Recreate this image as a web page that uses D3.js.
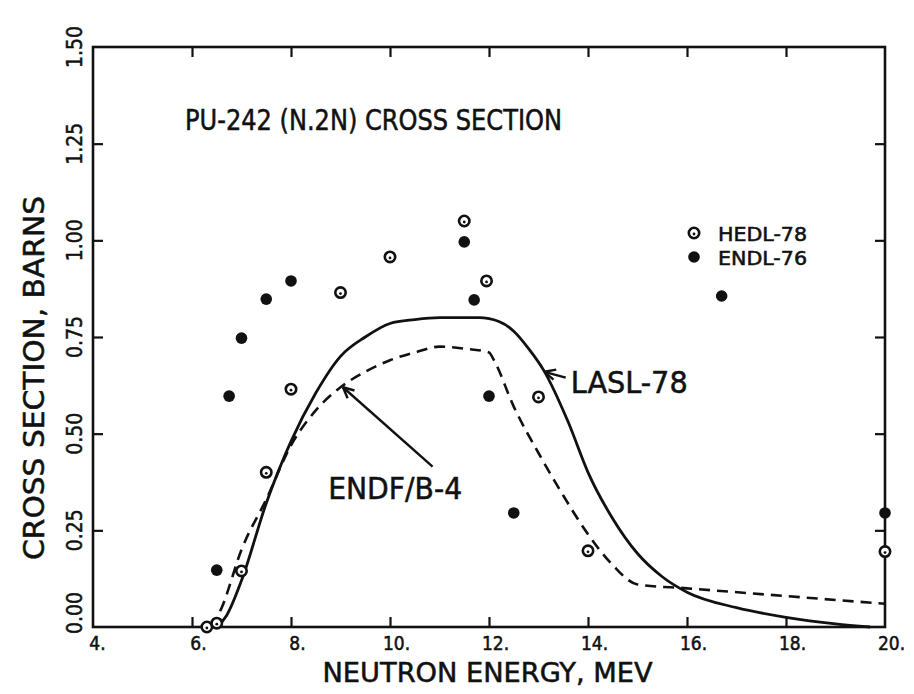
<!DOCTYPE html>
<html>
<head>
<meta charset="utf-8">
<script src="https://cdn.jsdelivr.net/npm/d3@7"></script>
<style>
  body { margin: 0; background: #fff; }
  text { font-family: "DejaVu Sans Condensed", "Liberation Sans Narrow", "DejaVu Sans", sans-serif; fill: #111; stroke: #111; stroke-width: 0.5; }
</style>
</head>
<body>
<div id="chart"></div>
<script>
  // tick values
  var energyTicks = [4, 6, 8, 10, 12, 14, 16, 18, 20];
  var xsTicks = [0, 0.25, 0.5, 0.75, 1.0, 1.25, 1.5];

  // HEDL-78 measurements (open circles)
  var hedlE  = [6.3, 6.5, 7.0, 7.5, 8.0, 9.0, 10.0, 11.5, 11.95, 13.0, 14.0, 20.0];
  var hedlXS = [0.0, 0.01, 0.145, 0.40, 0.615, 0.865, 0.957, 1.05, 0.895, 0.595, 0.197, 0.195];

  // ENDL-76 (filled points)
  var endlE  = [6.5, 6.75, 7.0, 7.5, 8.0, 11.5, 11.7, 12.0, 12.5, 16.7, 20.0];
  var endlXS = [0.147, 0.597, 0.747, 0.848, 0.895, 0.996, 0.846, 0.597, 0.295, 0.856, 0.295];

  // LASL-78 evaluation (solid)
  var laslE  = [6.5, 6.7, 7.0, 7.5, 8.0, 8.5, 9.0, 9.5, 10.0, 10.5, 11.0, 11.8, 12.2, 12.5, 12.8, 13.1, 13.6, 14.0, 14.5, 15.0, 15.5, 16.0, 17.0, 18.0, 19.0, 19.7];
  var laslXS = [0.0, 0.03, 0.12, 0.32, 0.48, 0.605, 0.70, 0.75, 0.785, 0.795, 0.80, 0.80, 0.79, 0.765, 0.72, 0.665, 0.53, 0.40, 0.28, 0.19, 0.13, 0.09, 0.05, 0.025, 0.008, 0.0];

  // ENDF/B-4 evaluation (dashed)
  var endfE  = [6.4, 6.6, 7.0, 7.5, 8.0, 8.5, 9.0, 9.5, 10.0, 10.5, 11.0, 11.5, 12.0, 12.1, 12.5, 13.0, 13.5, 14.0, 14.5, 15.0, 16.0, 18.0, 20.0];
  var endfXS = [0.0, 0.05, 0.20, 0.33, 0.47, 0.56, 0.62, 0.66, 0.69, 0.71, 0.725, 0.72, 0.71, 0.69, 0.57, 0.45, 0.34, 0.24, 0.16, 0.11, 0.10, 0.08, 0.06];

  var margin = { top: 47, right: 29, bottom: 67, left: 93 },
    width = 914 - margin.left - margin.right,
    height = 694 - margin.top - margin.bottom;

  var x = d3.scaleLinear().domain([4, 20]).range([0, width]);
  var y = d3.scaleLinear().domain([0, 1.5]).range([height, 0]);

  var svg = d3.select("#chart")
    .append("svg")
    .attr("width", 914)
    .attr("height", 694)
    .append("g")
    .attr("transform", "translate(" + margin.left + "," + margin.top + ")");

  var inner = energyTicks.slice(1, -1);
  var innerY = xsTicks.slice(1, -1);

  // inward ticks on all four sides
  svg.append("g")
    .attr("transform", "translate(0," + height + ")")
    .call(d3.axisTop(x).tickValues(inner).tickSize(10).tickFormat(""));
  svg.append("g")
    .call(d3.axisBottom(x).tickValues(inner).tickSize(10).tickFormat(""));
  svg.append("g")
    .call(d3.axisRight(y).tickValues(innerY).tickSize(10).tickFormat(""));
  svg.append("g")
    .attr("transform", "translate(" + width + ",0)")
    .call(d3.axisLeft(y).tickValues(innerY).tickSize(10).tickFormat(""));
  svg.selectAll(".domain").remove();
  svg.selectAll(".tick line").attr("stroke", "#111").attr("stroke-width", 2.2);

  // frame
  svg.append("rect")
    .attr("width", width).attr("height", height)
    .attr("fill", "none").attr("stroke", "#111").attr("stroke-width", 2.6);

  // x tick labels
  svg.append("g")
    .attr("transform", "translate(0," + height + ")")
    .call(d3.axisBottom(x).tickValues(energyTicks).tickSize(0).tickPadding(10)
      .tickFormat(function(d) { return d + "."; }))
    .call(function(g) { g.select(".domain").remove(); })
    .selectAll("text")
    .attr("font-size", 19)
    .attr("font-family", null)
    .attr("fill", null)
    .attr("dx", function(d) { return d == 4 ? 4 : 6; });

  // y tick labels, rotated
  svg.selectAll(".ylab")
    .data(xsTicks)
    .enter().append("text")
    .attr("class", "ylab")
    .attr("transform", function(d) {
      var yy = y(d) - (d == 0 ? 14 : 0);
      return "translate(-11," + yy + ") rotate(-90)";
    })
    .attr("text-anchor", "middle")
    .attr("font-size", 21)
    .text(function(d) { return d3.format(".2f")(d); });

  // axis titles
  svg.append("text")
    .attr("x", (322 + 653) / 2 - margin.left)
    .attr("y", height + 55)
    .attr("text-anchor", "middle")
    .attr("font-size", 27)
    .attr("textLength", 330).attr("lengthAdjust", "spacingAndGlyphs")
    .text("NEUTRON ENERGY, MEV");

  svg.append("text")
    .attr("transform", "translate(" + (44 - margin.left) + "," + (378 - margin.top) + ") rotate(-90)")
    .attr("text-anchor", "middle")
    .attr("font-size", 28)
    .attr("textLength", 364).attr("lengthAdjust", "spacingAndGlyphs")
    .text("CROSS SECTION, BARNS");

  // chart title
  svg.append("text")
    .attr("x", 185 - margin.left)
    .attr("y", 130 - margin.top)
    .attr("font-size", 28)
    .attr("textLength", 377).attr("lengthAdjust", "spacingAndGlyphs")
    .text("PU-242 (N.2N) CROSS SECTION");

  // evaluation curves
  var line = d3.line()
    .x(function(d) { return x(d[0]); })
    .y(function(d) { return y(d[1]); })
    .curve(d3.curveMonotoneX);

  svg.append("path")
    .datum(d3.zip(laslE, laslXS))
    .attr("d", line)
    .attr("fill", "none").attr("stroke", "#111").attr("stroke-width", 2.8);

  svg.append("path")
    .datum(d3.zip(endfE, endfXS))
    .attr("d", line)
    .attr("fill", "none").attr("stroke", "#111").attr("stroke-width", 2.6)
    .attr("stroke-dasharray", "11,7");

  // ENDL-76 points
  svg.selectAll(".endl")
    .data(d3.zip(endlE, endlXS))
    .enter().append("circle")
    .attr("class", "endl")
    .attr("cx", function(d) { return x(d[0]); })
    .attr("cy", function(d) { return y(d[1]); })
    .attr("r", 5.8)
    .attr("fill", "#111");

  // HEDL-78 points
  var hedl = svg.selectAll(".hedl")
    .data(d3.zip(hedlE, hedlXS))
    .enter().append("g")
    .attr("class", "hedl")
    .attr("transform", function(d) { return "translate(" + x(d[0]) + "," + y(d[1]) + ")"; });
  hedl.append("circle").attr("r", 5.2).attr("fill", "#fff").attr("stroke", "#111").attr("stroke-width", 2.6);
  hedl.append("circle").attr("r", 1.4).attr("cy", 1).attr("fill", "#111");

  // legend
  var legend = svg.append("g").attr("transform", "translate(" + (694 - margin.left) + "," + (233 - margin.top) + ")");
  legend.append("circle").attr("r", 5.2).attr("fill", "#fff").attr("stroke", "#111").attr("stroke-width", 2.6);
  legend.append("circle").attr("r", 1.4).attr("cy", 1).attr("fill", "#111");
  legend.append("circle").attr("cy", 24).attr("r", 5.8).attr("fill", "#111");
  legend.append("text").attr("x", 24).attr("y", 8).attr("font-size", 19)
    .attr("textLength", 89).attr("lengthAdjust", "spacingAndGlyphs").text("HEDL-78");
  legend.append("text").attr("x", 24).attr("y", 32).attr("font-size", 19)
    .attr("textLength", 89).attr("lengthAdjust", "spacingAndGlyphs").text("ENDL-76");

  // annotations
  var arrow = function(x1, y1, x2, y2) {
    svg.append("line")
      .attr("x1", x(x1)).attr("y1", y(y1)).attr("x2", x(x2)).attr("y2", y(y2))
      .attr("stroke", "#111").attr("stroke-width", 2.4);
    var a = Math.atan2(y(y1) - y(y2), x(x1) - x(x2));
    [0.45, -0.45].forEach(function(o) {
      svg.append("line")
        .attr("x1", x(x2)).attr("y1", y(y2))
        .attr("x2", x(x2) + 12 * Math.cos(a + o)).attr("y2", y(y2) + 12 * Math.sin(a + o))
        .attr("stroke", "#111").attr("stroke-width", 2.4);
    });
  };
  arrow(10.86, 0.415, 9.05, 0.62);
  arrow(13.55, 0.645, 13.12, 0.66);

  svg.append("text")
    .attr("x", x(13.65)).attr("y", y(0.605))
    .attr("font-size", 30)
    .attr("textLength", 117).attr("lengthAdjust", "spacingAndGlyphs")
    .text("LASL-78");

  svg.append("text")
    .attr("x", x(8.75)).attr("y", y(0.33))
    .attr("font-size", 30)
    .attr("textLength", 134).attr("lengthAdjust", "spacingAndGlyphs")
    .text("ENDF/B-4");
</script>
</body>
</html>
